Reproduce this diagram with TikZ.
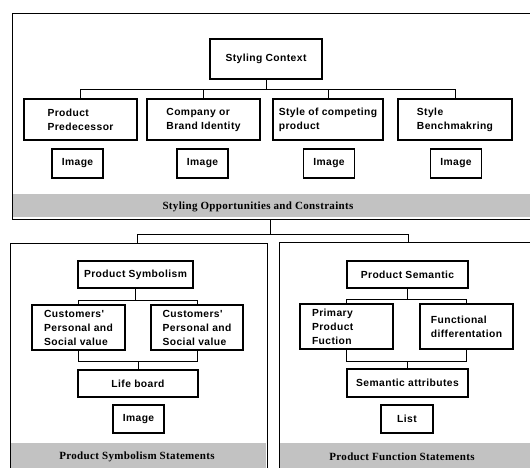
\documentclass[tikz,border=0pt]{standalone}
\usepackage{fontspec}
\newfontfamily\boxfont{Liberation Sans}[LetterSpace=4]
\newfontfamily\bandfont{Liberation Serif}[LetterSpace=3]
\usetikzlibrary{positioning}
\tikzset{
  frame/.style={draw, line width=1.3pt, inner sep=0pt, anchor=north west},
  band/.style={fill=black!24, draw=none},
  bandtext/.style={font=\bandfont\bfseries\fontsize{11}{12}\selectfont, inner sep=0pt},
  box/.style={draw, line width=1.8pt, inner sep=2pt, align=left,
    font=\boxfont\bfseries\fontsize{10.3}{14}\selectfont},
  conn/.style={line width=0.7pt},
}
\begin{document}
\begin{tikzpicture}[x=1pt, y=-1pt]
\useasboundingbox (0,0) rectangle (530,467);
\fill[white] (0,0) rectangle (530,467);

% ---------- upper panel ----------
\fill[band] (12,194) rectangle (540,217);
\node[frame, minimum width=528pt, minimum height=206pt] (top) at (12,13) {};
\node[bandtext] (topband) at (258,206.5) {Styling Opportunities and Constraints};

\node[box, minimum width=112pt, minimum height=40pt] (sc) at (266,59) {Styling Context};
\node[box, minimum width=113pt, minimum height=41pt] (b1) at (80.5,119.5) {Product\\Predecessor};
\node[box, minimum width=113pt, minimum height=41pt] (b2) at (203.5,119.5) {Company or\\Brand Identity};
\node[box, minimum width=110pt, minimum height=41pt] (b3) at (328,119.5) {Style of competing\\product};
\node[box, minimum width=114pt, minimum height=41pt] (b4) at (455,119.5) {Style\\Benchmakring};

\node[box, minimum width=51pt, minimum height=29pt] (i1) at (77.5,163.5) {Image};
\node[box, minimum width=51pt, minimum height=29pt] (i2) at (202.5,163.5) {Image};
\node[box, minimum width=51pt, minimum height=29pt] (i3) at (329,163.5) {Image};
\node[box, minimum width=51pt, minimum height=29pt] (i4) at (456,163.5) {Image};

\draw[conn] (sc.south) -- ++(0,9) coordinate (scbus);
\draw[conn] (b1.north) |- (scbus) -| (b4.north);
\draw[conn] (b2.north) -- (b2.north |- scbus);
\draw[conn] (b3.north) -- (b3.north |- scbus);

% ---------- lower left panel ----------
\fill[band] (11,443) rectangle (266,470);
\node[frame, minimum width=257pt, minimum height=230pt] (lf) at (10,243) {};
\node[bandtext] (lband) at (137,457) {Product Symbolism Statements};

\node[box, minimum width=115pt, minimum height=27pt] (ps) at (135.5,274.5) {Product Symbolism};
\node[box, minimum width=93pt, minimum height=45pt] (ca) at (78.5,327.5) {Customers'\\Personal and\\Social value};
\node[box, minimum width=92pt, minimum height=45pt] (cb) at (197,327.5) {Customers'\\Personal and\\Social value};
\node[box, minimum width=120pt, minimum height=27pt] (lb) at (138,383.5) {Life board};
\node[box, minimum width=51pt, minimum height=28pt] (limg) at (138.5,419) {Image};

\draw[conn] (ps.south) -- ++(0,11) coordinate (psbus);
\draw[conn] (ca.north) |- (psbus) -| (cb.north);
\draw[conn] (ca.south) -- ++(0,10) coordinate (cabus) -| (cb.south);
\draw[conn] (lb.north) -- (lb.north |- cabus);

% ---------- lower right panel ----------
\fill[band] (280,443) rectangle (540,470);
\node[frame, minimum width=260pt, minimum height=231pt] (rf) at (279,242) {};
\node[bandtext] (rband) at (402,457) {Product Function Statements};

\node[box, minimum width=121pt, minimum height=27pt] (psem) at (407.5,274.5) {Product Semantic};
\node[box, minimum width=93pt, minimum height=45pt, text width=69pt, inner xsep=12pt] (pp) at (346.5,326.5) {Primary\\Product\\Fuction};
\node[box, minimum width=93pt, minimum height=45pt] (fd) at (466.5,326.5) {Functional\\differentation};
\node[box, minimum width=121pt, minimum height=28pt] (sa) at (407.5,383) {Semantic attributes};
\node[box, minimum width=52pt, minimum height=28pt] (list) at (407,419) {List};

\draw[conn] (psem.south) -- ++(0,10) coordinate (psembus);
\draw[conn] (pp.north) |- (psembus) -| (fd.north);
\draw[conn] (pp.south) -- ++(0,11) coordinate (ppbus) -| (fd.south);
\draw[conn] (sa.north) -- (sa.north |- ppbus);

% ---------- link between panels ----------
\draw[conn] (top.south -| 270,0) -- ++(0,14) coordinate (midbus);
\draw[conn] (lf.north -| 137,0) |- (midbus) -| (rf.north -| 408,0);
\end{tikzpicture}
\end{document}
